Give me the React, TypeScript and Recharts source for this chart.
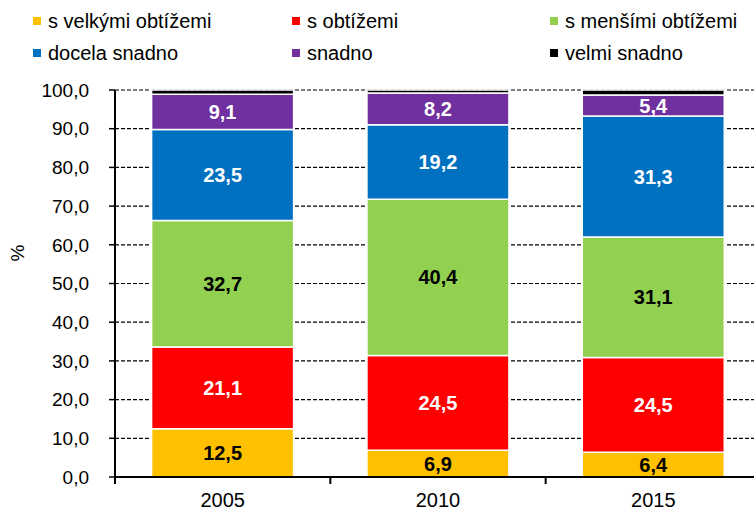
import React from 'react';
import { BarChart, Bar, XAxis, YAxis, CartesianGrid, LabelList } from 'recharts';

const years = ['2005', '2010', '2015'];
const sVelkymiObtizemi = [12.5, 6.9, 6.4];
const sObtizemi = [21.1, 24.5, 24.5];
const sMensimiObtizemi = [32.7, 40.4, 31.1];
const docelaSnadno = [23.5, 19.2, 31.3];
const snadno = [9.1, 8.2, 5.4];
const velmiSnadno = [1.1, 0.8, 1.3];
const yTicks = [0, 10, 20, 30, 40, 50, 60, 70, 80, 90, 100];

const series = [
  { key: 'a', name: 's velkými obtížemi', color: '#FFC000', label: '#000000', values: sVelkymiObtizemi },
  { key: 'b', name: 's obtížemi', color: '#FF0000', label: '#FFFFFF', values: sObtizemi },
  { key: 'c', name: 's menšími obtížemi', color: '#92D050', label: '#000000', values: sMensimiObtizemi },
  { key: 'd', name: 'docela snadno', color: '#0070C0', label: '#FFFFFF', values: docelaSnadno },
  { key: 'e', name: 'snadno', color: '#7030A0', label: '#FFFFFF', values: snadno },
  { key: 'f', name: 'velmi snadno', color: '#000000', label: null, values: velmiSnadno },
];

const data = years.map((year, i) => {
  const row: Record<string, string | number> = { year };
  series.forEach((s) => {
    row[s.key] = s.values[i];
  });
  return row;
});

const FONT = '"Liberation Sans", Arial, sans-serif';
const fmt = (v: number) => Number(v).toFixed(1).replace('.', ',');

// legend grid: 3 columns x 2 rows
const legendCols = [33, 292, 550];
const legendRows = [21, 53];

const XTick = (props: any) => {
  const { x, y, payload } = props;
  const half = payload && payload.offset ? payload.offset : 107.7;
  return (
    <g>
      <line x1={x - half} x2={x - half} y1={y} y2={y + 7} stroke="#000" strokeWidth={2} />
      <text x={x} y={y + 30} textAnchor="middle" fontSize={20} fill="#000" fontFamily={FONT}>
        {payload.value}
      </text>
    </g>
  );
};

const App: React.FC = () => {
  return (
    <div
      style={{
        position: 'absolute',
        left: 0,
        top: 0,
        width: 754,
        height: 510,
        overflow: 'hidden',
        background: '#fff',
        fontFamily: FONT,
      }}
    >
      {series.map((s, i) => (
        <div
          key={s.key}
          style={{
            position: 'absolute',
            left: legendCols[i % 3],
            top: legendRows[Math.floor(i / 3)] - 12,
            height: 24,
            display: 'flex',
            alignItems: 'center',
            fontSize: 20,
            color: '#000',
            whiteSpace: 'nowrap',
          }}
        >
          <span style={{ width: 8, height: 8, background: s.color, marginRight: 7, display: 'inline-block' }} />
          {s.name}
        </div>
      ))}
      <div style={{ position: 'absolute', left: 0, top: 0 }}>
        <BarChart
          width={761}
          height={510}
          data={data}
          margin={{ top: 90, right: 0, bottom: 0, left: 0 }}
          barCategoryGap="17%"
        >
          <CartesianGrid vertical={false} stroke="#000" strokeDasharray="4 2" strokeWidth={1.2} />
          <XAxis
            dataKey="year"
            height={33}
            axisLine={{ stroke: '#000', strokeWidth: 2 }}
            tickLine={false}
            tickSize={0}
            tickMargin={0}
            tick={<XTick />}
            interval={0}
          />
          <YAxis
            type="number"
            domain={[0, 100]}
            ticks={yTicks}
            width={115}
            interval={0}
            axisLine={{ stroke: '#000', strokeWidth: 2 }}
            tickLine={{ stroke: '#000', strokeWidth: 1.5 }}
            tickSize={6}
            tickMargin={20}
            tickFormatter={fmt}
            tick={{ fill: '#000', fontSize: 19, fontFamily: FONT }}
            label={{
              content: () => (
                <text
                  x={24}
                  y={253}
                  transform="rotate(-90 24 253)"
                  textAnchor="middle"
                  fontSize={19}
                  fill="#000"
                  fontFamily={FONT}
                >
                  %
                </text>
              ),
            }}
          />
          {series.map((s) => (
            <Bar
              key={s.key}
              dataKey={s.key}
              name={s.name}
              stackId="x"
              fill={s.color}
              stroke="#FFFFFF"
              strokeWidth={1.5}
              isAnimationActive={false}
            >
              {s.label && (
                <LabelList
                  dataKey={s.key}
                  position="center"
                  formatter={(v: any) => fmt(v)}
                  fill={s.label}
                  style={{ fontWeight: 'bold', fontSize: 20, fontFamily: FONT, fill: s.label }}
                />
              )}
            </Bar>
          ))}
        </BarChart>
      </div>
    </div>
  );
};

export default App;
